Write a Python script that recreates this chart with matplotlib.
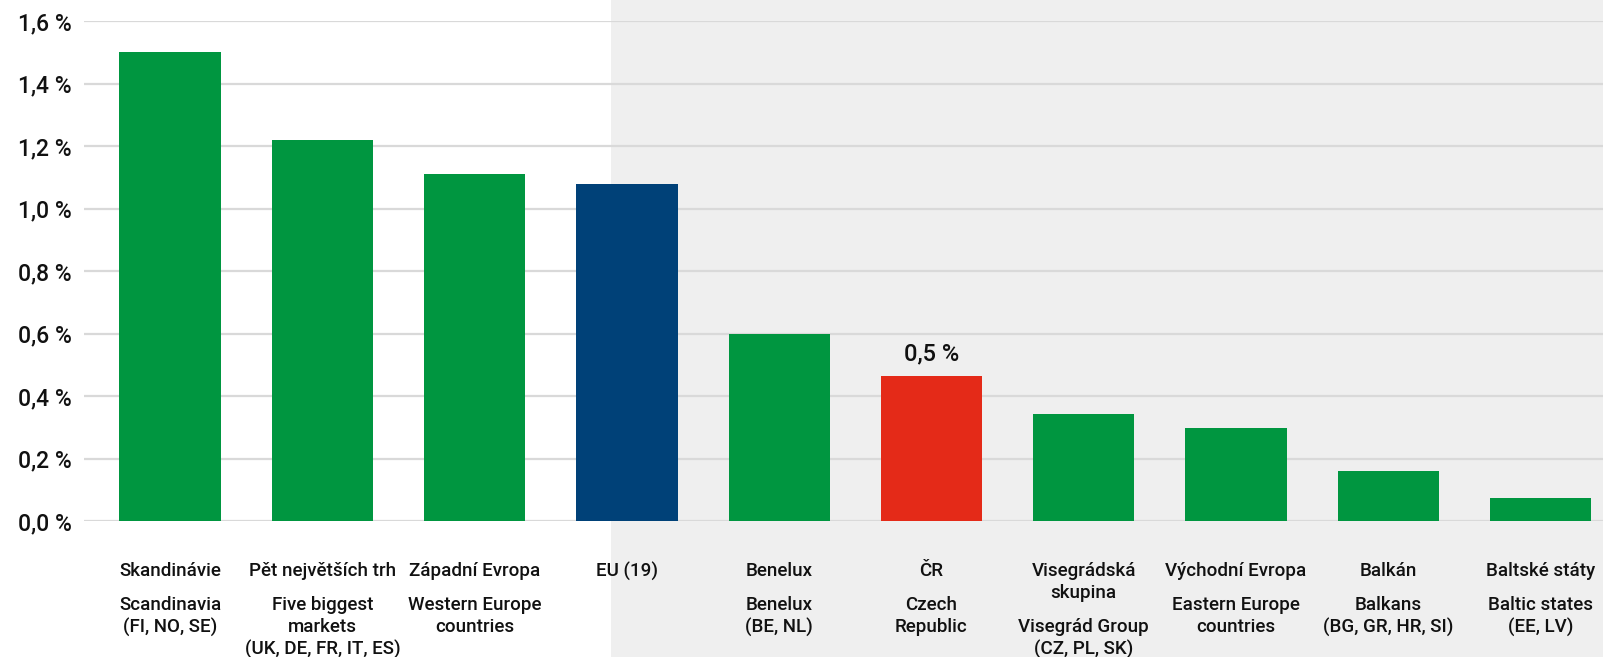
import numpy as np
import matplotlib
matplotlib.use("Agg")
import matplotlib.pyplot as plt

# Data
czech_labels = [
    ["Skandinávie"],
    ["Pět největších trh"],
    ["Západní Evropa"],
    ["EU (19)"],
    ["Benelux"],
    ["ČR"],
    ["Visegrádská", "skupina"],
    ["Východní Evropa"],
    ["Balkán"],
    ["Baltské státy"],
]
english_labels = [
    ["Scandinavia", "(FI, NO, SE)"],
    ["Five biggest", "markets", "(UK, DE, FR, IT, ES)"],
    ["Western Europe", "countries"],
    [],
    ["Benelux", "(BE, NL)"],
    ["Czech", "Republic"],
    ["Visegrád Group", "(CZ, PL, SK)"],
    ["Eastern Europe", "countries"],
    ["Balkans", "(BG, GR, HR, SI)"],
    ["Baltic states", "(EE, LV)"],
]
values = [1.50, 1.22, 1.11, 1.08, 0.60, 0.463, 0.342, 0.297, 0.159, 0.074]
bar_kind = ["g", "g", "g", "eu", "g", "cz", "g", "g", "g", "g"]
value_label_idx = 5
value_label_text = "0,5 %"
yticks = [0.0, 0.2, 0.4, 0.6, 0.8, 1.0, 1.2, 1.4, 1.6]

# Style
colors = {"g": "#009640", "eu": "#004178", "cz": "#E42A18"}
plt.rcParams["font.family"] = ["Roboto", "DejaVu Sans"]
txt_color = "#111111"

fig = plt.figure(figsize=(16.03, 6.57), dpi=100)
ax = fig.add_axes([84 / 1603, 136 / 657, 1 - 84 / 1603, 500 / 657])

x = np.arange(len(values))
ax.bar(x, values, width=0.665, color=[colors[k] for k in bar_kind], zorder=3)

ax.set_xlim(-0.565, 9.41)
ax.set_ylim(0, 1.6)

# gray shaded region on the right
ax.axvspan(2.895, 9.41, ymin=-0.3, ymax=1.1, color="#efefef", lw=0, zorder=0, clip_on=False)

ax.set_yticks(yticks)
ax.set_yticklabels([f"{v:.1f} %".replace(".", ",") for v in yticks],
                   fontsize=16.5, fontweight="medium", color=txt_color)
ax.tick_params(axis="y", length=0, pad=9)
ax.set_xticks([])
ax.yaxis.grid(True, color="#d9d9d9", linewidth=1.6, zorder=1)
ax.set_axisbelow(True)
for s in ax.spines.values():
    s.set_visible(False)
ax.patch.set_alpha(0)

# value label above Czech bar
ax.annotate(value_label_text, xy=(value_label_idx, values[value_label_idx]),
            xytext=(0, 22), textcoords="offset pixels",
            ha="center", va="center", fontsize=17, fontweight="medium", color=txt_color)

# category labels (Czech then English)
line_h = 22
for i in range(len(values)):
    off = 50
    for j, line in enumerate(czech_labels[i]):
        ax.annotate(line, xy=(i, 0), xytext=(0, -(off + j * line_h)), textcoords="offset pixels",
                    ha="center", va="center", fontsize=13.5, fontweight="medium",
                    color=txt_color, annotation_clip=False)
    off = off + (len(czech_labels[i]) - 1) * line_h + 34
    for j, line in enumerate(english_labels[i]):
        ax.annotate(line, xy=(i, 0), xytext=(0, -(off + j * line_h)), textcoords="offset pixels",
                    ha="center", va="center", fontsize=13.5, fontweight="medium",
                    color=txt_color, annotation_clip=False)

fig.savefig("out.png", dpi=100)
